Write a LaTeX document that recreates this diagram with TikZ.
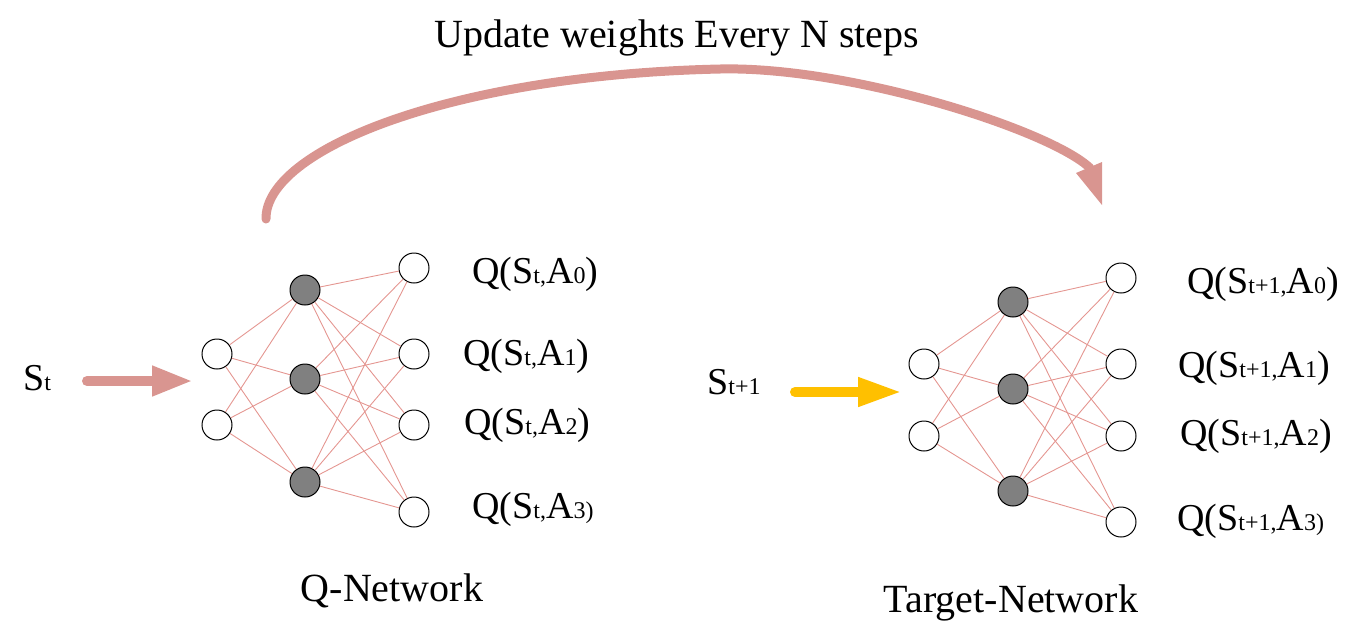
\documentclass[tikz,border=0pt]{standalone}
\usepackage{fontspec}
\setmainfont{Liberation Serif}
\usetikzlibrary{arrows.meta}
\definecolor{arrowpink}{RGB}{217,149,144}
\definecolor{goldarrow}{RGB}{255,192,0}
\definecolor{edgepink}{RGB}{228,150,145}
\definecolor{hidgray}{RGB}{128,128,128}
\newcommand{\smtxt}[1]{{\fontsize{24}{24}\selectfont #1}}
\begin{document}
\begin{tikzpicture}[x=1pt,y=-1pt,
  neuron/.style={circle, draw=black, line width=1pt, minimum size=30pt, inner sep=0pt, fill=white},
  hidden/.style={neuron, fill=hidgray},
  wire/.style={draw=edgepink, line width=0.9pt},
  lbl/.style={anchor=base west, inner sep=0pt, font=\fontsize{38}{38}\selectfont},
  title/.style={anchor=base, inner sep=0pt, font=\fontsize{40}{40}\selectfont},
  bigarrow/.style={line width=10pt, line cap=round}]
\useasboundingbox (0,0) rectangle (1361,641);

% Q-Network nodes
\node[neuron] (L-in1) at (217,354) {};
\node[neuron] (L-in2) at (217,425) {};
\node[hidden] (L-h1) at (305,290) {};
\node[hidden] (L-h2) at (305,379) {};
\node[hidden] (L-h3) at (305,482) {};
\node[neuron] (L-o1) at (414,268) {};
\node[neuron] (L-o2) at (414,354) {};
\node[neuron] (L-o3) at (414,425) {};
\node[neuron] (L-o4) at (414,512) {};

% Target-Network nodes
\node[neuron] (R-in1) at (924,364) {};
\node[neuron] (R-in2) at (924,436) {};
\node[hidden] (R-h1) at (1013,302) {};
\node[hidden] (R-h2) at (1013,389) {};
\node[hidden] (R-h3) at (1013,491) {};
\node[neuron] (R-o1) at (1121,278) {};
\node[neuron] (R-o2) at (1121,364) {};
\node[neuron] (R-o3) at (1121,436) {};
\node[neuron] (R-o4) at (1121,522) {};

% connections
\foreach \n in {L,R}{
  \foreach \i in {1,2}{
    \foreach \h in {1,2,3}{
      \draw[wire] (\n-in\i) -- (\n-h\h);
    }
  }
  \foreach \h in {1,2,3}{
    \foreach \o in {1,2,3,4}{
      \draw[wire] (\n-h\h) -- (\n-o\o);
    }
  }
}

% output labels
\node[lbl] (LQ0) at (472,283) {Q(S\smtxt{t,}A\smtxt{0})};
\node[lbl] (LQ1) at (463,365) {Q(S\smtxt{t,}A\smtxt{1})};
\node[lbl] (LQ2) at (464,434) {Q(S\smtxt{t,}A\smtxt{2})};
\node[lbl] (LQ3) at (472,518) {Q(S\smtxt{t,}A\smtxt{3)}};

\node[lbl] (RQ0) at (1187,293) {Q(S\smtxt{t+1,}A\smtxt{0})};
\node[lbl] (RQ1) at (1178,377) {Q(S\smtxt{t+1,}A\smtxt{1})};
\node[lbl] (RQ2) at (1180,445) {Q(S\smtxt{t+1,}A\smtxt{2})};
\node[lbl] (RQ3) at (1177,530) {Q(S\smtxt{t+1,}A\smtxt{3)}};

% inputs
\node[lbl] (St) at (23,390) {S\smtxt{t}};
\node[lbl] (St1) at (707,394) {S\smtxt{t+1}};

\coordinate (a1s) at (87,381);
\coordinate (a1e) at (193,381);
\draw[bigarrow, arrowpink, -{Triangle[length=41pt,width=28pt]}] (a1s) -- (a1e);

\coordinate (a2s) at (795,392);
\coordinate (a2e) at (902,392);
\draw[bigarrow, goldarrow, -{Triangle[length=44pt,width=27pt]}] (a2s) -- (a2e);

% titles
\node[title] (upd) at (677,47) {Update weights Every N steps};
\node[title] (qnet) at (392,601) {Q-Network};
\node[title] (tnet) at (1011,612) {Target-Network};

% curved update arrow
\coordinate (cs) at (266,219);
\coordinate (cm) at (720,69);
\coordinate (ce) at (1090,168);
\draw[line width=9pt, line cap=round, arrowpink]
  (cs) .. controls (265,150) and (450,75) .. (cm)
       .. controls (850,66) and (1050,130) .. (ce);
\fill[arrowpink] (1076,173) -- (1102,162) -- (1102,205) -- cycle;
\end{tikzpicture}
\end{document}
